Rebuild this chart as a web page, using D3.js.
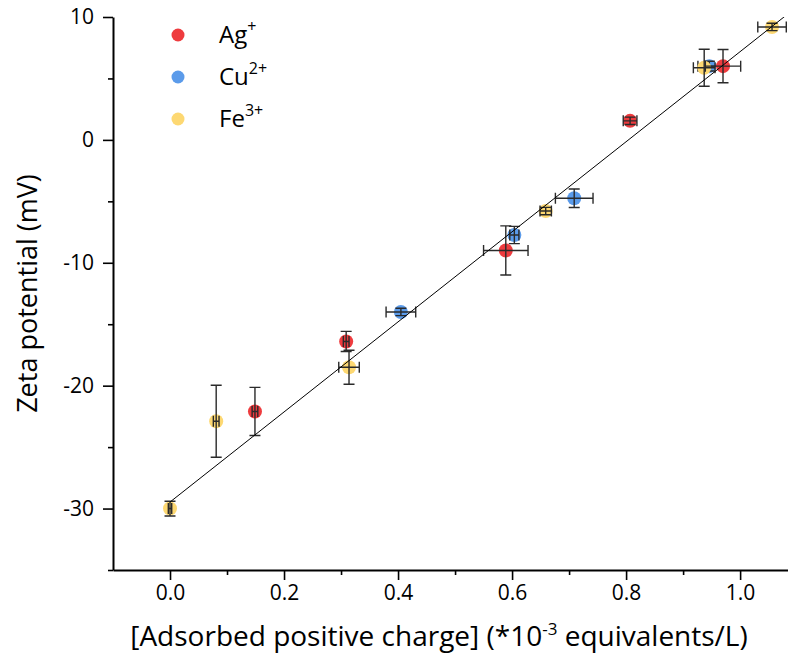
<!DOCTYPE html>
<html>
<head>
<meta charset="utf-8">
<script src="https://cdn.jsdelivr.net/npm/d3@7"></script>
<style>
  body { margin: 0; background: #fff; }
  svg { font-family: "Open Sans", sans-serif; }
</style>
</head>
<body>
<div id="chart"></div>
<script>
// Ag+ series
const agX = [0.149, 0.309, 0.589, 0.807, 0.970];
const agY = [-22.1, -16.4, -9.0, 1.55, 6.0];
const agXErr = [0.005, 0.005, 0.039, 0.012, 0.031];
const agYErr = [1.96, 0.82, 2.0, 0.3, 1.35];

// Cu2+ series
const cuX = [0.405, 0.604, 0.709, 0.946];
const cuY = [-14.0, -7.74, -4.75, 6.0];
const cuXErr = [0.026, 0.008, 0.033, 0.02];
const cuYErr = [0.3, 0.7, 0.75, 0.4];

// Fe3+ series
const feX = [0.0, 0.081, 0.314, 0.659, 0.937, 1.056];
const feY = [-30.0, -22.9, -18.5, -5.79, 5.87, 9.19];
const feXErr = [0.003, 0.005, 0.018, 0.01, 0.019, 0.025];
const feYErr = [0.6, 2.93, 1.38, 0.3, 1.5, 0.3];

// linear fit
const fitSlope = 36.65;
const fitIntercept = -29.47;

const xTicks = [0.0, 0.2, 0.4, 0.6, 0.8, 1.0];
const xMinorTicks = [0.1, 0.3, 0.5, 0.7, 0.9];
const yTicks = [-30, -20, -10, 0, 10];
const yMinorTicks = [-35, -25, -15, -5, 5];

const width = 788, height = 658;
const margin = { top: 17, right: 0, bottom: 88, left: 113 };

const svg = d3.select('#chart').append('svg')
    .attr('width', width)
    .attr('height', height);

const x = d3.scaleLinear().domain([-0.1, 1.084]).range([margin.left, width - margin.right]);
const y = d3.scaleLinear().domain([-35, 10]).range([height - margin.bottom, margin.top]);

const series = [
    { name: 'Cu', color: '#5b9bea', xs: cuX, ys: cuY, xe: cuXErr, ye: cuYErr },
    { name: 'Fe', color: '#fdd872', xs: feX, ys: feY, xe: feXErr, ye: feYErr },
    { name: 'Ag', color: '#ee3b3e', xs: agX, ys: agY, xe: agXErr, ye: agYErr },
];

svg.append('clipPath').attr('id', 'plot-clip')
    .append('rect')
    .attr('x', margin.left).attr('y', margin.top)
    .attr('width', width - margin.left - margin.right)
    .attr('height', height - margin.top - margin.bottom);

// markers + error bars for each series
const cap = 5.5;
series.forEach(s => {
    const pts = s.xs.map((v, i) => ({ x: v, y: s.ys[i], xe: s.xe[i], ye: s.ye[i] }));
    const g = svg.append('g');
    g.selectAll('circle')
        .data(pts)
        .join('circle')
        .attr('cx', d => x(d.x))
        .attr('cy', d => y(d.y))
        .attr('r', 7)
        .attr('fill', s.color);

    const eb = g.append('g')
        .attr('stroke', '#2a2a2a')
        .attr('stroke-width', 1.4)
        .attr('fill', 'none');
    pts.forEach(d => {
        const cx = x(d.x), cy = y(d.y);
        const y0 = y(d.y - d.ye), y1 = y(d.y + d.ye);
        const x0 = x(d.x - d.xe), x1 = x(d.x + d.xe);
        eb.append('path').attr('d',
            `M${cx},${y0}V${y1}M${cx - cap},${y0}H${cx + cap}M${cx - cap},${y1}H${cx + cap}` +
            `M${x0},${cy}H${x1}M${x0},${cy - cap}V${cy + cap}M${x1},${cy - cap}V${cy + cap}`);
    });
});

// fit line
const fitX = [0, 1.1];
svg.append('path')
    .attr('clip-path', 'url(#plot-clip)')
    .attr('d', d3.line()(fitX.map(v => [x(v), y(fitSlope * v + fitIntercept)])))
    .attr('stroke', '#000')
    .attr('stroke-width', 1)
    .attr('fill', 'none');

// axes
const xAxis = svg.append('g')
    .attr('transform', `translate(0,${y(-35)})`)
    .call(d3.axisBottom(x).tickValues(xTicks).tickFormat(d3.format('.1f')).tickSize(10).tickSizeOuter(0).tickPadding(5));
svg.append('g')
    .attr('transform', `translate(0,${y(-35)})`)
    .call(d3.axisBottom(x).tickValues(xMinorTicks).tickFormat('').tickSize(5).tickSizeOuter(0))
    .select('.domain').remove();

const yAxis = svg.append('g')
    .attr('transform', `translate(${x(-0.1)},0)`)
    .call(d3.axisLeft(y).tickValues(yTicks).tickFormat(d => String(d)).tickSize(10).tickSizeOuter(0).tickPadding(9));
svg.append('g')
    .attr('transform', `translate(${x(-0.1)},0)`)
    .call(d3.axisLeft(y).tickValues(yMinorTicks).tickFormat('').tickSize(5).tickSizeOuter(0))
    .select('.domain').remove();

svg.selectAll('.domain').attr('stroke-width', 2);
svg.selectAll('.tick line').attr('stroke-width', 1.6);
[xAxis, yAxis].forEach(a => a.selectAll('text')
    .attr('font-size', 21)
    .attr('font-family', '"Open Sans", sans-serif')
    .attr('fill', '#000'));

// axis titles
const xTitle = svg.append('text')
    .attr('x', 439)
    .attr('y', 646)
    .attr('text-anchor', 'middle')
    .attr('font-size', 28);
xTitle.append('tspan').text('[Adsorbed positive charge] (*10');
xTitle.append('tspan').attr('font-size', 17).attr('dy', -11).text('-3');
xTitle.append('tspan').attr('dy', 11).text(' equivalents/L)');

svg.append('text')
    .attr('transform', `translate(37,${(y(10) + y(-35)) / 2}) rotate(-90)`)
    .attr('text-anchor', 'middle')
    .attr('font-size', 27)
    .text('Zeta potential (mV)');

// legend
const legendNames = [['Ag', '+'], ['Cu', '2+'], ['Fe', '3+']];
const legendColors = ['#ee3b3e', '#5b9bea', '#fdd872'];
const legend = svg.append('g');
legendNames.forEach((n, i) => {
    const ly = 35 + i * 42;
    legend.append('circle').attr('cx', 178).attr('cy', ly).attr('r', 6.5).attr('fill', legendColors[i]);
    const t = legend.append('text').attr('x', 219).attr('y', ly + 8).attr('font-size', 24);
    t.append('tspan').text(n[0]);
    t.append('tspan').attr('font-size', 16).attr('dy', -11).text(n[1]);
});
</script>
</body>
</html>
